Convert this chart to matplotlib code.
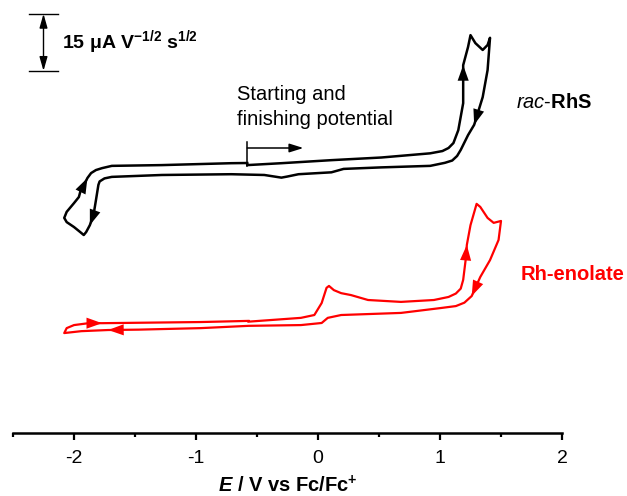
import matplotlib
matplotlib.use('Agg')
import matplotlib.pyplot as plt

plt.rcParams['font.family'] = ['Liberation Sans', 'DejaVu Sans']
plt.rcParams['mathtext.fontset'] = 'custom'
plt.rcParams['mathtext.rm'] = 'Liberation Sans'
plt.rcParams['mathtext.it'] = 'Liberation Sans:italic'
plt.rcParams['mathtext.bf'] = 'Liberation Sans:bold'
plt.rcParams['mathtext.bfit'] = 'Liberation Sans:italic:bold'

# potential (V vs Fc/Fc+) and current (uA V^-1/2 s^1/2, curves stacked)
rhsE = [-0.58, -0.30, 0.11, 0.52, 0.92, 1.02, 1.07, 1.11, 1.15, 1.19, 1.19, 1.23, 1.25, 1.29, 1.35, 1.39, 1.41,
        1.39, 1.35, 1.28, 1.23, 1.17, 1.14, 1.10, 1.04, 0.92, 0.52, 0.21, 0.11, -0.16, -0.25, -0.30, -0.44,
        -0.71, -1.28, -1.69, -1.75, -1.79, -1.80, -1.82, -1.84, -1.87, -1.90, -1.92, -1.95, -2.00, -2.06, -2.08,
        -2.06, -2.00, -1.96, -1.94, -1.91, -1.89, -1.86, -1.82, -1.77, -1.69, -1.28, -0.71, -0.58]
rhsI = [70.5, 71.0, 71.8, 72.5, 73.6, 74.2, 75.0, 76.3, 79.7, 86.8, 96.8, 101.6, 104.7, 102.6, 100.8, 102.1, 104.0,
        95.5, 88.4, 81.1, 78.4, 74.5, 72.9, 71.7, 71.1, 70.3, 69.9, 69.5, 68.6, 68.1, 67.5, 67.2, 67.9,
        68.1, 67.9, 67.4, 67.0, 66.2, 65.3, 61.3, 57.4, 54.7, 52.9, 52.1, 52.9, 54.2, 55.5, 56.6,
        58.2, 60.5, 62.1, 64.5, 65.8, 67.1, 68.4, 69.2, 69.7, 70.3, 70.5, 71.0, 71.05]
rhsArrows = [10, 19, 41, 53]

enolE = [-0.57, -0.14, -0.03, 0.03, 0.07, 0.09, 0.13, 0.19, 0.27, 0.41, 0.68, 0.95, 1.07, 1.13, 1.17, 1.19, 1.21,
         1.22, 1.25, 1.30, 1.33, 1.39, 1.44, 1.50, 1.48, 1.41, 1.33, 1.26, 1.20, 1.13, 1.01, 0.68, 0.19, 0.08,
         0.03, -0.14, -0.57, -0.96, -1.47, -1.72, -1.94, -2.08, -2.06, -2.00, -1.88, -1.77, -0.96, -0.57]
enolI = [29.3, 30.3, 31.05, 34.2, 38.2, 38.7, 37.6, 36.8, 36.3, 35.0, 34.5, 35.0, 35.8, 36.7, 38.0, 40.3, 45.5,
         49.5, 54.7, 60.3, 59.5, 56.6, 55.3, 55.8, 50.8, 45.5, 41.05, 36.05, 34.3, 33.4, 32.9, 31.6, 31.05, 30.3,
         28.95, 28.4, 28.2, 27.6, 27.2, 27.1, 26.8, 26.3, 27.6, 28.4, 28.9, 28.9, 29.2, 29.5]
enolArrows = [17, 27, 39, 45]

startE = -0.58
scaleE = -2.25
scaleTop = 110.3
scaleSize = 15


def heads(ax, xs, ys, tips, color):
	for i in tips:
		ax.annotate('', xy=(xs[i], ys[i]), xytext=(xs[i - 1], ys[i - 1]),
			arrowprops=dict(arrowstyle='-|>,head_length=0.7,head_width=0.25', color=color,
				lw=0, shrinkA=0, shrinkB=0, mutation_scale=16))


fig = plt.figure(figsize=(6.27, 4.96), dpi=100)
ax = fig.add_axes([13 / 627, 63 / 496, 549 / 627, 433 / 496])

ax.plot(rhsE, rhsI, color='black', lw=1.8, solid_joinstyle='round')
ax.plot(enolE, enolI, color='red', lw=1.6, solid_joinstyle='round')
heads(ax, rhsE, rhsI, rhsArrows, 'black')
heads(ax, enolE, enolI, enolArrows, 'red')

# starting / finishing potential marker
ax.plot([startE, startE], [70.3, 76.6], color='black', lw=1.1)
ax.annotate('', xy=(-0.12, 75.0), xytext=(startE, 75.0),
	arrowprops=dict(arrowstyle='-|>,head_length=0.7,head_width=0.22', color='black',
		lw=1.1, shrinkA=0, shrinkB=0, mutation_scale=12))
ax.text(-0.66, 87.6, 'Starting and', fontsize=14.5, va='baseline')
ax.text(-0.66, 81.05, 'finishing potential', fontsize=14.5, va='baseline')

# scale bar
ax.plot([scaleE - 0.12, scaleE + 0.115], [scaleTop, scaleTop], color='black', lw=1.0)
ax.plot([scaleE - 0.12, scaleE + 0.115], [scaleTop - scaleSize, scaleTop - scaleSize], color='black', lw=1.0)
ax.annotate('', xy=(scaleE, scaleTop), xytext=(scaleE, scaleTop - scaleSize),
	arrowprops=dict(arrowstyle='<|-|>,head_length=0.7,head_width=0.2', color='black',
		lw=1.0, shrinkA=0, shrinkB=0, mutation_scale=12))
ax.text(-2.10, scaleTop - scaleSize / 2, r'$\mathbf{15\ μA\ V^{-1/2}\ s^{1/2}}$', fontsize=14, va='center')

ax.text(1.62, 85.5, r'$\mathit{rac}$-$\mathbf{RhS}$', fontsize=14.5, va='baseline')
ax.text(1.66, 40.3, 'Rh-enolate', fontsize=14.5, fontweight='bold', color='red', va='baseline')

ax.set_xlim(-2.5, 2)
ax.set_ylim(0, 433 * 15 / 57)
for side in ['left', 'right', 'top']:
	ax.spines[side].set_visible(False)
ax.spines['bottom'].set_linewidth(1.8)
ax.set_yticks([])
ax.set_xticks([-2, -1, 0, 1, 2])
ax.set_xticklabels(['-2', '-1', '0', '1', '2'])
ax.set_xticks([-2.5, -1.5, -0.5, 0.5, 1.5], minor=True)
ax.tick_params(axis='x', which='major', length=5, width=1.6, labelsize=14, pad=7)
ax.tick_params(axis='x', which='minor', length=3, width=1.6)
ax.set_xlabel(r'$\mathbfit{E}$ / V vs Fc/Fc$^{\mathbf{+}}$', fontsize=14.5, fontweight='bold', labelpad=6)

fig.savefig('out.png', dpi=100)
